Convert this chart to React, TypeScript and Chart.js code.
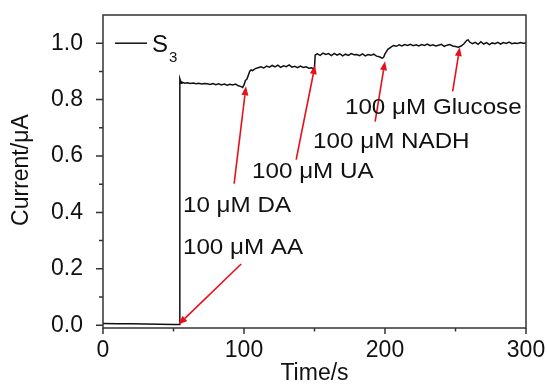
import React, { useEffect, useRef } from "react";
import { Chart, registerables } from "chart.js";

Chart.register(...registerables);

// Time (s) and current (µA) of the S3 amperometric trace
const times: number[] = [
  0, 10, 20, 30, 40, 50, 54,
  54.5, 55.5, 56, 58, 60, 62, 64, 66, 68, 70, 72, 74, 76, 78, 80, 82, 84, 86, 88, 90, 92, 94, 96, 98, 99,
  100, 101, 102, 103, 104, 105, 106, 108, 110,
  112, 114, 116, 118, 120, 122, 124, 126, 128, 130, 132, 134, 136, 138, 140, 142, 144, 146, 148, 149,
  150, 150.5, 152, 154, 156, 158, 160, 162, 164, 166, 168, 170, 172, 174, 176, 178, 180, 182, 184, 186, 188, 190, 192, 194, 196, 198, 199,
  200, 201, 202, 204, 206, 208,
  210, 212, 214, 216, 218, 220, 222, 224, 226, 228, 230, 232, 234, 236, 238, 240, 242, 244, 246, 248, 250, 252, 254, 256, 258, 259,
  260, 262, 264, 266, 268, 270, 272, 274, 276, 278, 280, 282, 284, 286, 288, 290, 292, 294, 296, 298, 300,
];
const currents: number[] = [
  0.006, 0.005, 0.005, 0.004, 0.003, 0.002, 0.002,
  0.874, 0.858, 0.862, 0.858, 0.86, 0.857, 0.859, 0.856, 0.858, 0.855, 0.857, 0.856, 0.854, 0.857, 0.853, 0.856, 0.852, 0.855, 0.851, 0.854, 0.852, 0.855, 0.849, 0.846, 0.843,
  0.852, 0.868, 0.872, 0.885, 0.9, 0.905, 0.903, 0.91, 0.913,
  0.916, 0.912, 0.919, 0.915, 0.921, 0.916, 0.922, 0.914, 0.92, 0.917, 0.923, 0.915, 0.918, 0.913, 0.919, 0.914, 0.916, 0.911, 0.913, 0.909,
  0.915, 0.958, 0.962, 0.957, 0.965, 0.96, 0.963, 0.956, 0.964, 0.958, 0.962, 0.955, 0.961, 0.957, 0.963, 0.959, 0.96, 0.956, 0.962, 0.955, 0.96, 0.957, 0.961, 0.954, 0.952, 0.947, 0.95,
  0.962, 0.97, 0.978, 0.985, 0.992, 0.989,
  0.994, 0.99, 0.995, 0.992, 0.996, 0.991, 0.994, 0.99, 0.995, 0.992, 0.997, 0.991, 0.994, 0.99, 0.993, 0.996, 0.989, 0.993, 0.995, 0.99, 0.988, 0.986, 0.99, 0.998, 1.01, 1.012,
  1.004, 0.998, 1.003, 0.996, 1.005, 0.997, 1.002, 0.995, 1.001, 0.998, 1.003, 0.997, 1.002, 0.999, 1.004, 0.998, 1.001, 0.999, 1.002, 1.0, 1.001,
];

const seriesLabel = "S";
const seriesSub = "3";
const xTicks: number[] = [0, 100, 200, 300];
const xMinorTicks: number[] = [50, 150, 250];
const yTicks: number[] = [0, 0.2, 0.4, 0.6, 0.8, 1.0];
const yMinorTicks: number[] = [0.1, 0.3, 0.5, 0.7, 0.9];
const xTitle = "Time/s";
const yTitle = "Current/\u03bcA";

// Annotations: label text, label anchor (time, current), arrow tail and head (time, current)
const annLabels: string[] = ["100 \u03bcM AA", "10 \u03bcM DA", "100 \u03bcM UA", "100 \u03bcM NADH", "100 \u03bcM Glucose"];
const annLabelX: number[] = [56.7, 56.7, 105.7, 149, 171.6];
const annLabelY: number[] = [0.274, 0.423, 0.544, 0.651, 0.772];
const arrowTailX: number[] = [98, 93, 137, 193, 248];
const arrowTailY: number[] = [0.217, 0.502, 0.587, 0.722, 0.829];
const arrowHeadX: number[] = [53.5, 101.4, 150.4, 200, 253];
const arrowHeadY: number[] = [0.002, 0.847, 0.922, 0.936, 0.986];

const FONT = "'Liberation Sans', Arial, sans-serif";

const decorPlugin = {
  id: "decor",
  afterDraw(chart: any) {
    const ctx = chart.ctx as CanvasRenderingContext2D;
    const { left, right, top, bottom } = chart.chartArea;
    const xs = chart.scales.x;
    const ys = chart.scales.y;
    ctx.save();
    // frame
    ctx.strokeStyle = "#333";
    ctx.lineWidth = 1.5;
    ctx.strokeRect(left, top, right - left, bottom - top);
    // ticks
    ctx.beginPath();
    for (const v of xTicks) {
      const p = xs.getPixelForValue(v);
      ctx.moveTo(p, bottom);
      ctx.lineTo(p, bottom + 6);
    }
    for (const v of xMinorTicks) {
      const p = xs.getPixelForValue(v);
      ctx.moveTo(p, bottom);
      ctx.lineTo(p, bottom + 3.5);
    }
    for (const v of yTicks) {
      const p = ys.getPixelForValue(v);
      ctx.moveTo(left, p);
      ctx.lineTo(left - 7, p);
    }
    for (const v of yMinorTicks) {
      const p = ys.getPixelForValue(v);
      ctx.moveTo(left, p);
      ctx.lineTo(left - 4, p);
    }
    ctx.stroke();

    // axis titles
    ctx.fillStyle = "#111";
    ctx.font = `23px ${FONT}`;
    ctx.textAlign = "center";
    ctx.textBaseline = "middle";
    ctx.fillText(xTitle, (left + right) / 2, 374);
    ctx.save();
    ctx.translate(22, ys.getPixelForValue(0.55));
    ctx.rotate(-Math.PI / 2);
    ctx.fillText(yTitle, 0, 0);
    ctx.restore();

    // legend
    const ly = ys.getPixelForValue(1.0);
    ctx.strokeStyle = "#111";
    ctx.lineWidth = 1.5;
    ctx.beginPath();
    ctx.moveTo(left + 12, ly);
    ctx.lineTo(left + 44, ly);
    ctx.stroke();
    ctx.textAlign = "left";
    ctx.textBaseline = "alphabetic";
    ctx.font = `24px ${FONT}`;
    ctx.fillText(seriesLabel, left + 49, ly + 9);
    ctx.font = `15px ${FONT}`;
    ctx.fillText(seriesSub, left + 66, ly + 19);

    // arrows
    ctx.strokeStyle = "#e8101a";
    ctx.fillStyle = "#e8101a";
    ctx.lineWidth = 1.6;
    for (let i = 0; i < arrowTailX.length; i++) {
      const x1 = xs.getPixelForValue(arrowTailX[i]);
      const y1 = ys.getPixelForValue(arrowTailY[i]);
      const x2 = xs.getPixelForValue(arrowHeadX[i]);
      const y2 = ys.getPixelForValue(arrowHeadY[i]);
      const ang = Math.atan2(y2 - y1, x2 - x1);
      const hl = 9;
      const hw = 3.5;
      const bx = x2 - hl * Math.cos(ang);
      const by = y2 - hl * Math.sin(ang);
      ctx.beginPath();
      ctx.moveTo(x1, y1);
      ctx.lineTo(bx, by);
      ctx.stroke();
      ctx.beginPath();
      ctx.moveTo(x2, y2);
      ctx.lineTo(bx + hw * Math.sin(ang), by - hw * Math.cos(ang));
      ctx.lineTo(bx - hw * Math.sin(ang), by + hw * Math.cos(ang));
      ctx.closePath();
      ctx.fill();
    }

    // annotation labels
    ctx.fillStyle = "#111";
    ctx.font = `22px ${FONT}`;
    ctx.textAlign = "left";
    ctx.textBaseline = "middle";
    for (let i = 0; i < annLabels.length; i++) {
      ctx.save();
      ctx.translate(xs.getPixelForValue(annLabelX[i]), ys.getPixelForValue(annLabelY[i]));
      ctx.scale(1.1, 1);
      ctx.fillText(annLabels[i], 0, 0);
      ctx.restore();
    }
    ctx.restore();
  },
};

export default function App() {
  const ref = useRef<HTMLCanvasElement | null>(null);
  useEffect(() => {
    document.body.style.margin = "0";
    const canvas = ref.current!;
    const chart = new Chart(canvas, {
      type: "scatter",
      data: {
        datasets: [
          {
            label: "S3",
            data: times.map((t, i) => ({ x: t, y: currents[i] })),
            showLine: true,
            borderColor: "#111",
            borderWidth: 1.5,
            pointRadius: 0,
            tension: 0,
          },
        ],
      },
      options: {
        responsive: false,
        animation: false,
        layout: { padding: { left: 0, top: 15, right: 21, bottom: 0 } },
        plugins: { legend: { display: false }, tooltip: { enabled: false } },
        scales: {
          x: {
            type: "linear",
            min: 0,
            max: 300,
            afterBuildTicks: (s: any) => {
              s.ticks = xTicks.map((v) => ({ value: v }));
            },
            afterFit: (s: any) => {
              s.height = 59;
              s.paddingLeft = 0;
              s.paddingRight = 0;
            },
            grid: { display: false },
            border: { display: false },
            ticks: {
              color: "#111",
              font: { size: 23, family: FONT },
              padding: 1,
              maxRotation: 0,
              callback: (v: any) => String(v),
            },
          },
          y: {
            type: "linear",
            min: -0.01,
            max: 1.1,
            afterBuildTicks: (s: any) => {
              s.ticks = yTicks.map((v) => ({ value: v }));
            },
            afterFit: (s: any) => {
              s.width = 103;
              s.paddingTop = 0;
              s.paddingBottom = 0;
            },
            grid: { display: false },
            border: { display: false },
            ticks: {
              color: "#111",
              font: { size: 23, family: FONT },
              padding: 12,
              callback: (v: any) => Number(v).toFixed(1),
            },
          },
        },
      },
      plugins: [decorPlugin],
    });
    return () => chart.destroy();
  }, []);
  return (
    <div style={{ width: 547, height: 387, background: "#fff" }}>
      <canvas ref={ref} width={547} height={387} />
    </div>
  );
}
